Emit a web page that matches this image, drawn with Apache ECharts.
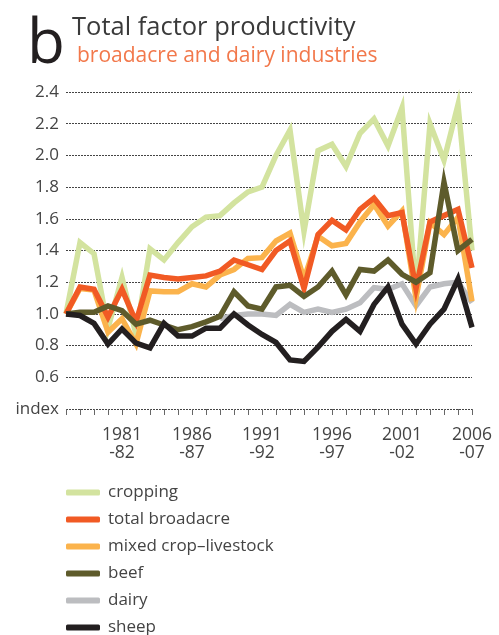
<!DOCTYPE html>
<html>
<head>
<meta charset="utf-8">
<script src="https://cdn.jsdelivr.net/npm/echarts@6/dist/echarts.min.js"></script>
<style>
html,body{margin:0;padding:0;background:#fff;}
#c{width:499px;height:635px;}
</style>
</head>
<body>
<div id="c"></div>
<script>
const categories = ['1977-78','1978-79','1979-80','1980-81','1981-82','1982-83','1983-84','1984-85','1985-86','1986-87',
  '1987-88','1988-89','1989-90','1990-91','1991-92','1992-93','1993-94','1994-95','1995-96','1996-97',
  '1997-98','1998-99','1999-00','2000-01','2001-02','2002-03','2003-04','2004-05','2005-06','2006-07'];
const tickLabels = ['1981-82','1986-87','1991-92','1996-97','2001-02','2006-07'];
const yTicks = [0.4,0.6,0.8,1.0,1.2,1.4,1.6,1.8,2.0,2.2,2.4];

const cropping = [1.00,1.45,1.38,0.91,1.23,0.87,1.41,1.34,1.45,1.55,1.61,1.62,1.70,1.77,1.80,2.00,2.16,1.52,2.03,2.07,1.93,2.14,2.23,2.06,2.30,1.12,2.20,1.97,2.32,1.40];
const totalBroadacre = [1.00,1.17,1.155,0.98,1.155,0.95,1.245,1.23,1.22,1.23,1.24,1.27,1.34,1.31,1.28,1.40,1.46,1.16,1.50,1.59,1.53,1.66,1.73,1.62,1.64,1.16,1.58,1.62,1.66,1.29];
const mixedCropLivestock = [1.00,1.16,1.15,0.885,0.97,0.81,1.145,1.14,1.14,1.19,1.17,1.245,1.28,1.35,1.355,1.46,1.51,1.22,1.49,1.43,1.445,1.58,1.69,1.555,1.65,1.10,1.575,1.50,1.61,1.08];
const beef = [1.00,1.01,1.01,1.05,1.02,0.935,0.96,0.93,0.90,0.92,0.95,0.985,1.14,1.05,1.03,1.17,1.18,1.11,1.17,1.27,1.12,1.28,1.27,1.34,1.25,1.20,1.26,1.83,1.40,1.47];
const dairy = [null,null,null,null,null,null,null,null,null,null,null,0.97,0.99,1.00,1.00,0.99,1.06,1.01,1.03,1.01,1.03,1.07,1.165,1.155,1.19,1.05,1.17,1.19,1.20,1.07];
const sheep = [1.00,0.99,0.94,0.81,0.905,0.815,0.785,0.94,0.86,0.86,0.91,0.91,1.00,0.93,0.87,0.82,0.71,0.70,0.79,0.89,0.965,0.89,1.06,1.17,0.935,0.81,0.935,1.03,1.22,0.915];

const FONT = '"Open Sans", "Noto Sans", sans-serif';
const chart = echarts.init(document.getElementById('c'), null, {renderer:'canvas'});

function mk(name, data, color, z) {
  return {
    name: name, type: 'line', data: data, symbol: 'none', z: z,
    connectNulls: false, animation: false,
    lineStyle: {color: color, width: 5.5, join: 'miter', miterLimit: 8},
    itemStyle: {color: color}
  };
}

chart.setOption({
  animation: false,
  backgroundColor: '#fff',
  title: [
    {text: 'b', left: 22, top: 9, textStyle: {fontFamily: FONT, fontSize: 62, fontWeight: 'normal', color: '#231f20'}},
    {text: 'Total factor productivity', left: 67, top: 10, textStyle: {fontFamily: FONT, fontSize: 25.5, fontWeight: 'normal', color: '#3a3a3a'}},
    {text: 'broadacre and dairy industries', left: 72, top: 41, textStyle: {fontFamily: FONT, fontSize: 21, fontWeight: 'normal', color: '#f2784b'}}
  ],
  grid: {left: 66, right: 27, top: 92, bottom: 226, containLabel: false},
  xAxis: {
    type: 'category', data: categories, boundaryGap: false,
    axisLine: {show: false},
    axisTick: {show: true, interval: 0, length: 6, lineStyle: {color: '#666', width: 1}},
    axisLabel: {
      interval: 0, margin: 17, fontFamily: FONT, fontSize: 17.5, color: '#444', lineHeight: 18,
      formatter: function (v) {
        if (tickLabels.indexOf(v) < 0) return '';
        return v.slice(0,4) + '\n-' + v.slice(5);
      }
    },
    splitLine: {show: false}
  },
  yAxis: {
    type: 'value', min: yTicks[0], max: yTicks[yTicks.length-1], interval: 0.2,
    axisLine: {show: false}, axisTick: {show: false},
    axisLabel: {
      margin: 7, fontFamily: FONT, fontSize: 17, color: '#444',
      formatter: function (v) {
        if (Math.abs(v - yTicks[0]) < 1e-6) return 'index';
        return v.toFixed(1);
      }
    },
    splitLine: {show: true, lineStyle: {color: '#444', width: 1, type: [2,1]}}
  },
  legend: {
    orient: 'vertical', left: 66, top: 484, width: 300, height: 220, padding: 0, itemGap: 10,
    itemWidth: 34, itemHeight: 6, icon: 'roundRect',
    itemStyle: {borderWidth: 0},
    textStyle: {fontFamily: FONT, fontSize: 17, color: '#444', lineHeight: 17, padding: [0,0,0,3]},
    data: ['cropping','total broadacre','mixed crop–livestock','beef','dairy','sheep']
  },
  series: [
    mk('cropping', cropping, '#d3e39f', 1),
    mk('dairy', dairy, '#bcbdc0', 2),
    mk('mixed crop–livestock', mixedCropLivestock, '#fbb34c', 3),
    mk('total broadacre', totalBroadacre, '#f15a24', 4),
    mk('beef', beef, '#5e5b2b', 5),
    mk('sheep', sheep, '#231f20', 6)
  ]
});
</script>
</body>
</html>
